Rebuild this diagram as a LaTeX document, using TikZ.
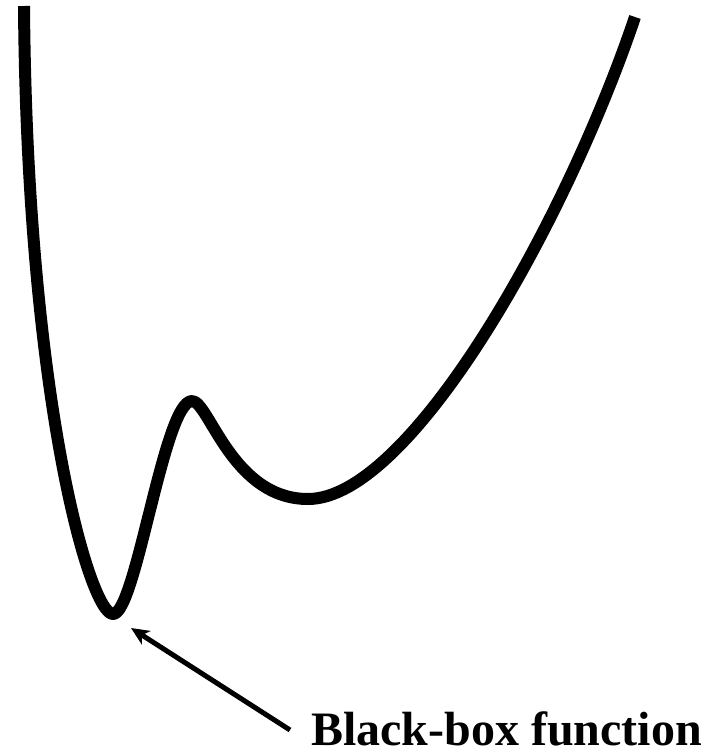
\documentclass[tikz,border=0pt]{standalone}
\usepackage{fontspec}
\setmainfont{Liberation Serif}
\usetikzlibrary{arrows.meta}
\begin{document}
\begin{tikzpicture}[x=1pt,y=-1pt,
  curvestyle/.style={line width=12pt,line cap=butt,line join=round},
  pointer/.style={line width=5pt,-{Stealth[length=18pt,width=16pt,inset=5pt]}},
  labelstyle/.style={font=\bfseries\fontsize{48}{50}\selectfont,inner sep=0pt,text depth=0pt,anchor=base west}]
\useasboundingbox (0,0) rectangle (715,753);
\fill[white] (0,0) rectangle (715,753);
\coordinate (start) at (24,6);
\coordinate (gmin) at (113,614);
\coordinate (peak) at (192,401);
\coordinate (lmin) at (308,499);
\coordinate (finish) at (635,17);
\draw[curvestyle] (start)
  .. controls (27,400) and (90,614) .. (gmin)
  .. controls (136,614) and (164,401) .. (peak)
  .. controls (209,401) and (232,499) .. (lmin)
  .. controls (410,499) and (565,224.5) .. (finish);
\node[labelstyle] (label) at (311,745) {Black-box function};
\coordinate (tail) at (290,730);
\coordinate (tip) at (131,628);
\draw[pointer] (tail) -- (tip);
\end{tikzpicture}
\end{document}
